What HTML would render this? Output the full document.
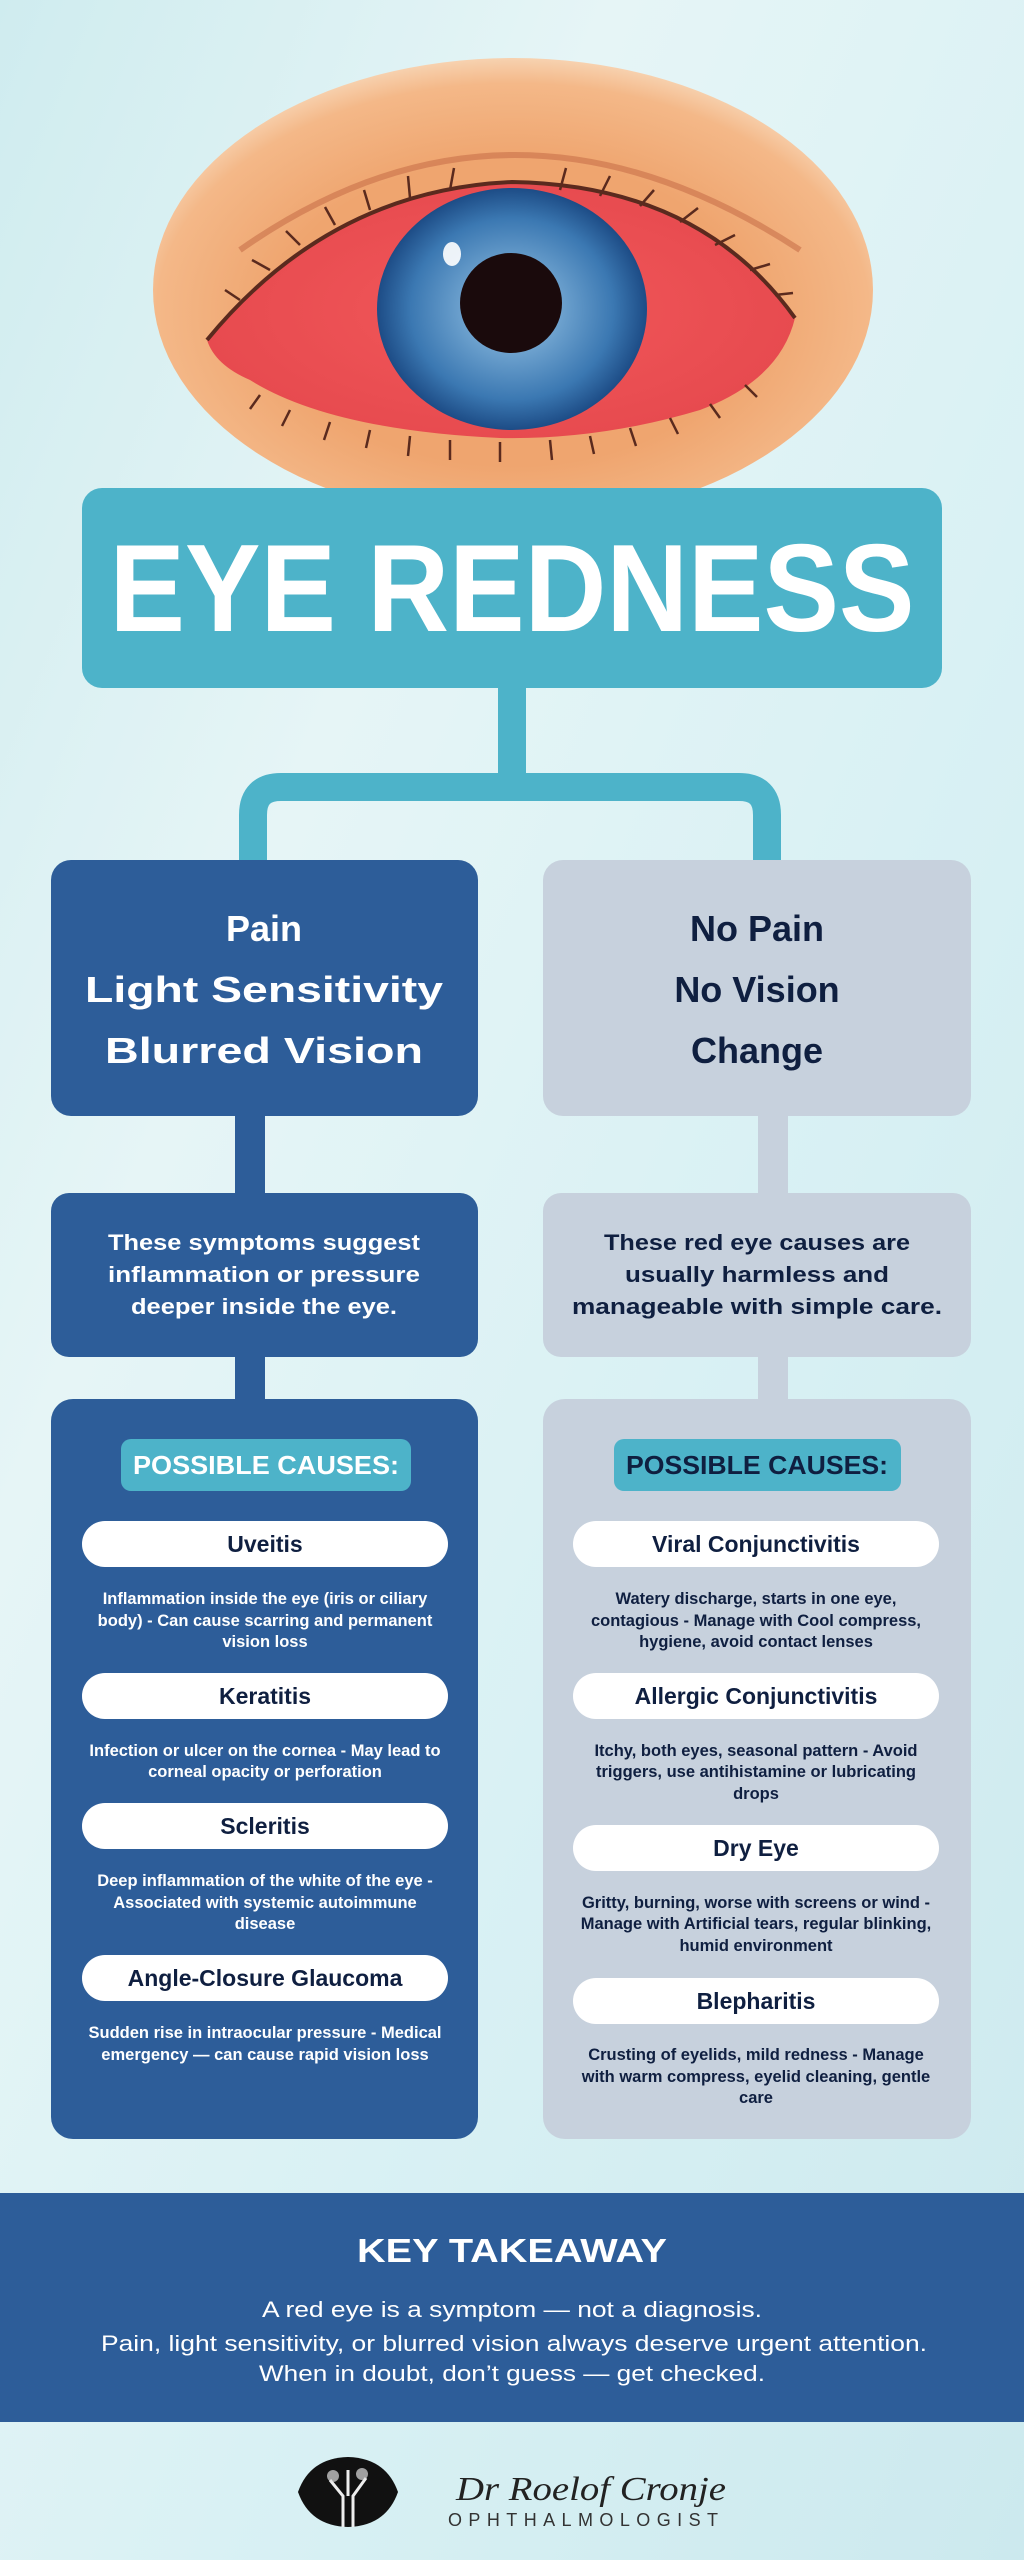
<!DOCTYPE html>
<html><head><meta charset="utf-8"><style>
html,body{margin:0;padding:0;width:1024px;height:2560px;overflow:hidden}
svg{display:block}
text{font-family:"Liberation Sans",sans-serif;font-weight:bold}
text.n{font-weight:normal}
</style></head><body>
<svg width="1024" height="2560" viewBox="0 0 1024 2560" xmlns="http://www.w3.org/2000/svg">
<defs>
<linearGradient id="bg" x1="0" y1="0" x2="1" y2="1">
<stop offset="0" stop-color="#cfecef"/><stop offset="0.3" stop-color="#e6f5f6"/><stop offset="0.6" stop-color="#d9f1f4"/><stop offset="1" stop-color="#cce9ee"/>
</linearGradient>
<radialGradient id="skin" cx="0.5" cy="0.55" r="0.55">
<stop offset="0.6" stop-color="#efa56f"/><stop offset="0.9" stop-color="#f4b888"/><stop offset="1" stop-color="#f7d2b0"/>
</radialGradient>
<radialGradient id="scl" cx="0.5" cy="0.5" r="0.6">
<stop offset="0" stop-color="#f2585a"/><stop offset="1" stop-color="#e5484d"/>
</radialGradient>
<radialGradient id="iris" cx="0.5" cy="0.5" r="0.5">
<stop offset="0.35" stop-color="#6fa3cf"/><stop offset="0.75" stop-color="#3b78b2"/><stop offset="1" stop-color="#1d4c86"/>
</radialGradient>
</defs>
<rect width="1024" height="2560" fill="url(#bg)"/>

<!-- eye -->
<ellipse cx="513" cy="290" rx="360" ry="232" fill="url(#skin)"/>
<path d="M240 250 Q510 60 800 250" fill="none" stroke="#c86f4a" stroke-width="6" opacity="0.6"/>
<path d="M207 340 Q330 190 512 182 Q700 185 795 318 Q780 380 700 410 Q600 440 500 438 Q330 430 250 380 Q215 365 207 340Z" fill="url(#scl)"/>
<path d="M207 340 Q330 190 512 182 Q700 185 795 318" fill="none" stroke="#5a2a1e" stroke-width="4"/>
<g stroke="#5a2a1e" stroke-width="2.5" fill="none">
<path d="M240 300 l-15 -10 M270 270 l-18 -10 M300 245 l-14 -14 M335 225 l-10 -18 M370 210 l-6 -20 M410 198 l-2 -22 M450 190 l4 -22 M560 190 l6 -22 M600 196 l10 -20 M640 206 l14 -16 M680 222 l18 -14 M715 245 l20 -10 M750 270 l20 -6 M775 295 l18 -2"/>
<path d="M260 395 l-10 14 M290 410 l-8 16 M330 422 l-6 18 M370 430 l-4 18 M410 436 l-2 20 M450 440 l0 20 M500 442 l0 20 M550 440 l2 20 M590 436 l4 18 M630 428 l6 18 M670 418 l8 16 M710 404 l10 14 M745 385 l12 12"/>
</g>
<ellipse cx="512" cy="309" rx="135" ry="121" fill="url(#iris)"/>
<ellipse cx="511" cy="303" rx="51" ry="50" fill="#1a0a0c"/>
<ellipse cx="452" cy="254" rx="9" ry="12" fill="#fff" opacity="0.9"/>

<!-- title -->
<rect x="82" y="488" width="860" height="200" rx="20" fill="#4db3c9"/>
<text x="512" y="631" font-size="124" fill="#fff" text-anchor="middle" textLength="805" lengthAdjust="spacingAndGlyphs">EYE REDNESS</text>

<!-- connectors -->
<rect x="498" y="686" width="28" height="92" fill="#4db3c9"/>
<path d="M253 862 V815 Q253 787 281 787 H739 Q767 787 767 815 V862" fill="none" stroke="#4db3c9" stroke-width="28"/>
<rect x="235" y="1110" width="30" height="90" fill="#2d5d99"/>
<rect x="235" y="1350" width="30" height="55" fill="#2d5d99"/>
<rect x="758" y="1110" width="30" height="90" fill="#c7d1dd"/>
<rect x="758" y="1350" width="30" height="55" fill="#c7d1dd"/>

<!-- left column -->
<rect x="51" y="860" width="427" height="256" rx="20" fill="#2d5d99"/>
<text x="264" y="941" font-size="36" fill="#fff" text-anchor="middle">Pain</text>
<text x="264" y="1002" font-size="36" fill="#fff" text-anchor="middle" textLength="358" lengthAdjust="spacingAndGlyphs">Light Sensitivity</text>
<text x="264" y="1063" font-size="36" fill="#fff" text-anchor="middle" textLength="318" lengthAdjust="spacingAndGlyphs">Blurred Vision</text>

<rect x="51" y="1193" width="427" height="164" rx="18" fill="#2d5d99"/>
<g font-size="22" fill="#fff" text-anchor="middle">
<text x="264" y="1250" textLength="312" lengthAdjust="spacingAndGlyphs">These symptoms suggest</text>
<text x="264" y="1282" textLength="312" lengthAdjust="spacingAndGlyphs">inflammation or pressure</text>
<text x="264" y="1314" textLength="266" lengthAdjust="spacingAndGlyphs">deeper inside the eye.</text>
</g>

<rect x="51" y="1399" width="427" height="740" rx="22" fill="#2d5d99"/>
<rect x="121" y="1439" width="290" height="52" rx="10" fill="#4db3c9"/>
<text x="266" y="1474" font-size="26" fill="#fff" text-anchor="middle" textLength="266" lengthAdjust="spacingAndGlyphs">POSSIBLE CAUSES:</text>
<g fill="#fff">
<rect x="82" y="1521" width="366" height="46" rx="23"/>
<rect x="82" y="1673" width="366" height="46" rx="23"/>
<rect x="82" y="1803" width="366" height="46" rx="23"/>
<rect x="82" y="1955" width="366" height="46" rx="23"/>
</g>
<g font-size="23" fill="#0f1f40" text-anchor="middle">
<text x="265" y="1552">Uveitis</text>
<text x="265" y="1704">Keratitis</text>
<text x="265" y="1834">Scleritis</text>
<text x="265" y="1986">Angle-Closure Glaucoma</text>
</g>
<g font-size="16.5" fill="#fff" text-anchor="middle">
<text x="265" y="1604">Inflammation inside the eye (iris or ciliary</text>
<text x="265" y="1626">body) - Can cause scarring and permanent</text>
<text x="265" y="1647">vision loss</text>
<text x="265" y="1756">Infection or ulcer on the cornea - May lead to</text>
<text x="265" y="1777">corneal opacity or perforation</text>
<text x="265" y="1886">Deep inflammation of the white of the eye -</text>
<text x="265" y="1908">Associated with systemic autoimmune</text>
<text x="265" y="1929">disease</text>
<text x="265" y="2038">Sudden rise in intraocular pressure - Medical</text>
<text x="265" y="2060">emergency — can cause rapid vision loss</text>
</g>

<!-- right column -->
<rect x="543" y="860" width="428" height="256" rx="20" fill="#c7d1dd"/>
<g font-size="36" fill="#0f1f40" text-anchor="middle">
<text x="757" y="941">No Pain</text>
<text x="757" y="1002">No Vision</text>
<text x="757" y="1063">Change</text>
</g>
<rect x="543" y="1193" width="428" height="164" rx="18" fill="#c7d1dd"/>
<g font-size="22" fill="#0f1f40" text-anchor="middle">
<text x="757" y="1250" textLength="306" lengthAdjust="spacingAndGlyphs">These red eye causes are</text>
<text x="757" y="1282" textLength="264" lengthAdjust="spacingAndGlyphs">usually harmless and</text>
<text x="757" y="1314" textLength="370" lengthAdjust="spacingAndGlyphs">manageable with simple care.</text>
</g>
<rect x="543" y="1399" width="428" height="740" rx="22" fill="#c7d1dd"/>
<rect x="614" y="1439" width="287" height="52" rx="10" fill="#4db3c9"/>
<text x="757" y="1474" font-size="26" fill="#0f1f40" text-anchor="middle" textLength="262" lengthAdjust="spacingAndGlyphs">POSSIBLE CAUSES:</text>
<g fill="#fff">
<rect x="573" y="1521" width="366" height="46" rx="23"/>
<rect x="573" y="1673" width="366" height="46" rx="23"/>
<rect x="573" y="1825" width="366" height="46" rx="23"/>
<rect x="573" y="1978" width="366" height="46" rx="23"/>
</g>
<g font-size="23" fill="#0f1f40" text-anchor="middle">
<text x="756" y="1552">Viral Conjunctivitis</text>
<text x="756" y="1704">Allergic Conjunctivitis</text>
<text x="756" y="1856">Dry Eye</text>
<text x="756" y="2009">Blepharitis</text>
</g>
<g font-size="16.5" fill="#0f1f40" text-anchor="middle">
<text x="756" y="1604">Watery discharge, starts in one eye,</text>
<text x="756" y="1626">contagious - Manage with Cool compress,</text>
<text x="756" y="1647">hygiene, avoid contact lenses</text>
<text x="756" y="1756">Itchy, both eyes, seasonal pattern - Avoid</text>
<text x="756" y="1777">triggers, use antihistamine or lubricating</text>
<text x="756" y="1799">drops</text>
<text x="756" y="1908">Gritty, burning, worse with screens or wind -</text>
<text x="756" y="1929">Manage with Artificial tears, regular blinking,</text>
<text x="756" y="1951">humid environment</text>
<text x="756" y="2060">Crusting of eyelids, mild redness - Manage</text>
<text x="756" y="2082">with warm compress, eyelid cleaning, gentle</text>
<text x="756" y="2103">care</text>
</g>

<!-- key takeaway -->
<rect x="0" y="2193" width="1024" height="229" fill="#2d5d99"/>
<text x="512" y="2262" font-size="33" fill="#fff" text-anchor="middle" textLength="310" lengthAdjust="spacingAndGlyphs">KEY TAKEAWAY</text>
<g font-size="22" fill="#fff" text-anchor="middle">
<text class="n" x="512" y="2317" textLength="500" lengthAdjust="spacingAndGlyphs">A red eye is a symptom — not a diagnosis.</text>
<text class="n" x="514" y="2351" textLength="826" lengthAdjust="spacingAndGlyphs">Pain, light sensitivity, or blurred vision always deserve urgent attention.</text>
<text class="n" x="512" y="2381" textLength="506" lengthAdjust="spacingAndGlyphs">When in doubt, don’t guess — get checked.</text>
</g>

<!-- logo -->
<path d="M298 2492 Q310 2458 348 2457 Q386 2458 398 2492 Q386 2526 348 2527 Q310 2526 298 2492Z" fill="#111"/>
<path d="M343 2527 V2496 L330 2480 M353 2527 V2496 L366 2478 M348 2496 V2470" stroke="#eee" stroke-width="3" fill="none"/>
<circle cx="333" cy="2476" r="6" fill="#ddd" opacity="0.7"/><circle cx="362" cy="2474" r="6" fill="#ddd" opacity="0.7"/>
<text class="n" x="456" y="2500" font-size="34" fill="#222" style="font-family:'Liberation Serif',serif;font-style:italic" textLength="270" lengthAdjust="spacingAndGlyphs">Dr Roelof Cronje</text>
<text class="n" x="448" y="2526" font-size="18" fill="#333" textLength="270" lengthAdjust="spacing">OPHTHALMOLOGIST</text>
</svg>
</body></html>
